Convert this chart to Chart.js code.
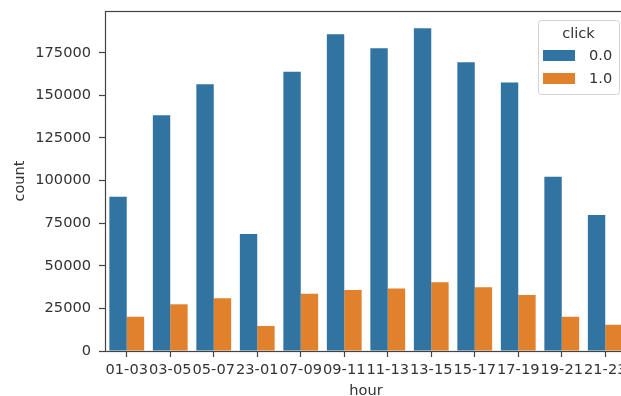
<!DOCTYPE html>
<html>
<head>
<meta charset="utf-8">
<script src="https://cdn.jsdelivr.net/npm/chart.js@4/dist/chart.umd.min.js"></script>
<style>
    html, body { margin: 0; padding: 0; overflow: hidden; background: #fff; }
    #wrap { width: 621px; height: 396px; overflow: hidden; position: relative; }
    canvas { display: block; }
</style>
</head>
<body>
<div id="wrap"><canvas id="chart" width="640" height="404"></canvas></div>
<script>
// 数据
var hours = ['01-03', '03-05', '05-07', '23-01', '07-09', '09-11', '11-13', '13-15', '15-17', '17-19', '19-21', '21-23'];
var noClick = [90500, 138300, 156500, 68700, 163900, 185900, 177600, 189400, 169400, 157500, 102300, 79800];
var yesClick = [20100, 27400, 30900, 14700, 33600, 35800, 36600, 40300, 37400, 32900, 20100, 15400];
var yTicks = [0, 25000, 50000, 75000, 100000, 125000, 150000, 175000];
var seriesNames = ['0.0', '1.0'];
var legendTitle = 'click';

var FONT = 'DejaVu Sans';
var FSIZE = 14.6;
var TEXT = '#333333';
var SPINE = '#444444';

// 边框（四条轴线）
var framePlugin = {
    id: 'frame',
    afterDatasetsDraw: function(chart) {
        var a = chart.chartArea;
        var ctx = chart.ctx;
        ctx.save();
        ctx.strokeStyle = SPINE;
        ctx.lineWidth = 1.2;
        ctx.strokeRect(a.left + 0.5, a.top + 0.5, a.right - a.left, a.bottom - a.top);
        ctx.restore();
    }
};

// 图例（右上角，带标题）
var legendPlugin = {
    id: 'boxLegend',
    afterDraw: function(chart) {
        var a = chart.chartArea;
        var ctx = chart.ctx;
        var w = 81, h = 74;
        var x = a.right - 8 - w;
        var y = a.top + 9;
        ctx.save();
        ctx.beginPath();
        if (ctx.roundRect) ctx.roundRect(x + 0.5, y + 0.5, w, h, 3);
        else ctx.rect(x + 0.5, y + 0.5, w, h);
        ctx.fillStyle = 'rgba(255,255,255,0.85)';
        ctx.fill();
        ctx.strokeStyle = '#d3d3d3';
        ctx.lineWidth = 1;
        ctx.stroke();

        ctx.font = FSIZE + 'px "' + FONT + '"';
        ctx.fillStyle = TEXT;
        ctx.textAlign = 'center';
        ctx.textBaseline = 'middle';
        ctx.fillText(legendTitle, x + w / 2, y + 14);

        chart.data.datasets.forEach(function(ds, i) {
            var py = y + 30 + i * 23;
            ctx.fillStyle = ds.backgroundColor;
            ctx.fillRect(x + 5, py, 32, 11);
            ctx.fillStyle = TEXT;
            ctx.textAlign = 'left';
            ctx.fillText(ds.label, x + 51, py + 6);
        });
        ctx.restore();
    }
};

var ctx = document.getElementById('chart').getContext('2d');
var chart = new Chart(ctx, {
    type: 'bar',
    data: {
        labels: hours,
        datasets: [
            {
                label: seriesNames[0],
                data: noClick,
                backgroundColor: '#3274a1',
                borderWidth: 0,
                categoryPercentage: 0.8,
                barPercentage: 1.0,
            },
            {
                label: seriesNames[1],
                data: yesClick,
                backgroundColor: '#e1812c',
                borderWidth: 0,
                categoryPercentage: 0.8,
                barPercentage: 1.0,
            },
        ],
    },
    options: {
        responsive: false,
        animation: false,
        layout: {
            padding: { left: 0, top: 11, right: 13, bottom: 0 },
        },
        plugins: {
            legend: { display: false },
            tooltip: { enabled: false },
        },
        scales: {
            x: {
                offset: true,
                border: { display: false },
                grid: {
                    offset: false,
                    drawOnChartArea: false,
                    drawTicks: true,
                    tickLength: 6,
                    tickColor: SPINE,
                    tickWidth: 1.2,
                },
                ticks: {
                    autoSkip: false,
                    maxRotation: 0,
                    minRotation: 0,
                    padding: 4,
                    color: TEXT,
                    font: { family: FONT, size: FSIZE },
                },
                title: {
                    display: true,
                    text: 'hour',
                    color: TEXT,
                    font: { family: FONT, size: FSIZE },
                    padding: { top: 0, bottom: 4 },
                },
                afterFit: function(scale) {
                    scale.height = 53;
                    scale.paddingLeft = 0;
                    scale.paddingRight = 0;
                },
            },
            y: {
                min: 0,
                max: 199500,
                border: { display: false },
                grid: {
                    drawOnChartArea: false,
                    drawTicks: true,
                    tickLength: 6,
                    tickColor: SPINE,
                    tickWidth: 1.2,
                },
                ticks: {
                    stepSize: 25000,
                    padding: 8,
                    color: TEXT,
                    font: { family: FONT, size: FSIZE },
                    callback: function(v) { return String(v); },
                },
                afterBuildTicks: function(scale) {
                    scale.ticks = yTicks.map(function(v) { return { value: v }; });
                },
                title: {
                    display: true,
                    text: 'count',
                    color: TEXT,
                    font: { family: FONT, size: FSIZE },
                    padding: { top: 11, bottom: 0 },
                },
                afterFit: function(scale) {
                    scale.width = 105;
                    scale.paddingTop = 0;
                    scale.paddingBottom = 0;
                },
            },
        },
    },
    plugins: [framePlugin, legendPlugin],
});
</script>
</body>
</html>
